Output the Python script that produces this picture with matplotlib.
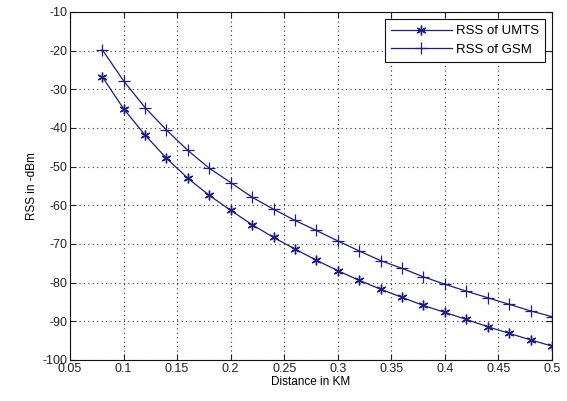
import matplotlib
matplotlib.use("Agg")
import matplotlib.pyplot as plt

distance = [0.08, 0.10, 0.12, 0.14, 0.16, 0.18, 0.20, 0.22, 0.24, 0.26, 0.28,
            0.30, 0.32, 0.34, 0.36, 0.38, 0.40, 0.42, 0.44, 0.46, 0.48, 0.50]
rss_umts = [-26.7, -35.0, -41.8, -47.8, -53.0, -57.4, -61.3, -65.0, -68.3, -71.3, -74.2,
            -76.9, -79.4, -81.7, -83.8, -85.9, -87.7, -89.5, -91.4, -93.1, -94.8, -96.4]
rss_gsm = [-19.7, -27.8, -34.7, -40.5, -45.8, -50.4, -54.1, -57.9, -61.0, -63.9, -66.5,
           -69.2, -71.8, -74.3, -76.3, -78.5, -80.4, -82.2, -83.9, -85.6, -87.3, -88.8]
xticks = [0.05, 0.1, 0.15, 0.2, 0.25, 0.3, 0.35, 0.4, 0.45, 0.5]
xticklabels = ["0.05", "0.1", "0.15", "0.2", "0.25", "0.3", "0.35", "0.4", "0.45", "0.5"]
yticks = [-100, -90, -80, -70, -60, -50, -40, -30, -20, -10]

plt.rcParams['font.family'] = ['Liberation Sans', 'DejaVu Sans']
plt.rcParams['font.size'] = 8.5
plt.rcParams['axes.unicode_minus'] = False

fig = plt.figure(figsize=(5.67, 4.01), dpi=100)
ax = fig.add_axes([70/567, 41/401, 482/567, 348/401])
color = '#1c1c8a'
ax.plot(distance, rss_umts, color=color, lw=0.9, marker=(6, 2, 0), markersize=7,
        markeredgewidth=1.0, label='RSS of UMTS')
ax.plot(distance, rss_gsm, color=color, lw=0.9, marker='+', markersize=8,
        markeredgewidth=0.9, label='RSS of GSM')
ax.set_xlim(0.05, 0.5)
ax.set_ylim(-100, -10)
ax.set_xticks(xticks)
ax.set_xticklabels(xticklabels)
ax.set_yticks(yticks)
ax.set_yticklabels([str(v) for v in yticks])
ax.grid(True, linestyle=(0, (1, 3)), color='#333333', lw=0.8)
ax.tick_params(direction='in', length=4, width=0.8, top=True, right=True,
               labelsize=9, colors='#222222', pad=2)
for s in ax.spines.values():
    s.set_linewidth(0.8)
    s.set_color('#111111')
ax.set_xlabel('Distance in KM', fontsize=8.5, labelpad=1)
ax.set_ylabel('RSS in -dBm', fontsize=8.5, labelpad=3)
leg = ax.legend(loc='upper right', fancybox=False, edgecolor='#111111',
                framealpha=1, fontsize=9.5, borderpad=0.45, labelspacing=0.45,
                handlelength=4.6, borderaxespad=0.55, handletextpad=0.3,
                numpoints=1)
leg.get_frame().set_linewidth(0.8)
fig.savefig('out.png', dpi=100)
